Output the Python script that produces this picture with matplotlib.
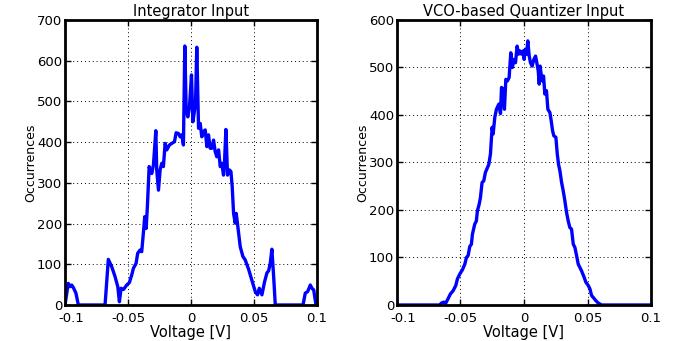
import matplotlib
matplotlib.use("Agg")
import matplotlib.pyplot as plt
import matplotlib.transforms as mtransforms
import numpy as np

plt.rcParams['font.family'] = ['DejaVu Sans']

# Integrator input histogram (voltage [V], occurrences)
int_v = [-0.1000, -0.0974, -0.0960, -0.0947, -0.0934, -0.0913, -0.0894, -0.0682, -0.0656, -0.0629,
         -0.0603, -0.0581, -0.0568, -0.0555, -0.0536, -0.0510, -0.0489, -0.0470, -0.0457, -0.0436,
         -0.0423, -0.0404, -0.0391, -0.0377, -0.0367, -0.0356, -0.0346, -0.0332, -0.0325, -0.0311,
         -0.0298, -0.0279, -0.0272, -0.0258, -0.0245, -0.0232, -0.0219, -0.0205, -0.0192, -0.0171,
         -0.0152, -0.0131, -0.0118, -0.0099, -0.0086, -0.0073, -0.0060, -0.0049, -0.0038, -0.0025,
         -0.0012, 0.0004, 0.0015, 0.0025, 0.0036, 0.0046, 0.0060, 0.0073, 0.0086, 0.0099,
         0.0113, 0.0126, 0.0139, 0.0152, 0.0166, 0.0179, 0.0192, 0.0205, 0.0219, 0.0232,
         0.0245, 0.0258, 0.0266, 0.0277, 0.0290, 0.0303, 0.0317, 0.0327, 0.0338, 0.0351,
         0.0359, 0.0372, 0.0391, 0.0412, 0.0430, 0.0457, 0.0483, 0.0510, 0.0528, 0.0542,
         0.0563, 0.0584, 0.0603, 0.0616, 0.0629, 0.0642, 0.0656, 0.0669, 0.0889, 0.0907,
         0.0926, 0.0947, 0.0960, 0.0974, 0.0992, 0.1000]
int_n = [0, 53, 45, 49, 43, 29, 0, 0, 112, 94,
         70, 45, 8, 41, 38, 49, 55, 74, 90, 102,
         127, 135, 131, 180, 217, 188, 242, 340, 332, 323,
         344, 428, 332, 282, 332, 348, 340, 397, 381, 393,
         397, 401, 423, 421, 413, 418, 393, 636, 479, 462,
         487, 565, 450, 471, 495, 633, 434, 446, 413, 426,
         430, 389, 418, 385, 385, 405, 377, 364, 381, 340,
         348, 319, 350, 431, 319, 332, 328, 291, 225, 201,
         225, 192, 143, 119, 111, 88, 61, 33, 25, 41,
         25, 57, 79, 84, 102, 137, 70, 0, 0, 29,
         33, 49, 41, 37, 0, 0]

# VCO-based quantizer input histogram (voltage [V], occurrences)
vco_v = [-0.1000, -0.0664, -0.0650, -0.0632, -0.0616, -0.0598, -0.0580, -0.0558, -0.0537, -0.0524,
         -0.0506, -0.0485, -0.0466, -0.0453, -0.0440, -0.0427, -0.0414, -0.0406, -0.0388, -0.0375,
         -0.0367, -0.0353, -0.0343, -0.0330, -0.0317, -0.0304, -0.0288, -0.0277, -0.0264, -0.0251,
         -0.0243, -0.0230, -0.0217, -0.0198, -0.0185, -0.0177, -0.0164, -0.0154, -0.0143, -0.0130,
         -0.0117, -0.0104, -0.0091, -0.0080, -0.0067, -0.0054, -0.0043, -0.0033, -0.0020, -0.0007,
         0.0001, 0.0009, 0.0020, 0.0030, 0.0041, 0.0051, 0.0064, 0.0078, 0.0091, 0.0101,
         0.0112, 0.0120, 0.0127, 0.0141, 0.0154, 0.0164, 0.0177, 0.0188, 0.0204, 0.0214,
         0.0225, 0.0235, 0.0251, 0.0262, 0.0272, 0.0283, 0.0296, 0.0309, 0.0322, 0.0335,
         0.0348, 0.0361, 0.0374, 0.0388, 0.0401, 0.0414, 0.0427, 0.0440, 0.0453, 0.0474,
         0.0487, 0.0506, 0.0519, 0.0532, 0.0545, 0.0566, 0.0585, 0.0611, 0.1000]
vco_n = [0, 0, 4, 6, 4, 13, 23, 30, 41, 55,
         65, 74, 86, 100, 104, 123, 128, 149, 170, 177,
         198, 212, 226, 258, 261, 279, 289, 296, 318, 374,
         360, 395, 412, 423, 403, 458, 454, 412, 475, 472,
         479, 531, 500, 517, 510, 545, 528, 535, 528, 535,
         517, 538, 528, 556, 524, 510, 503, 517, 524, 510,
         493, 465, 503, 472, 482, 444, 451, 412, 405, 388,
         367, 356, 353, 318, 296, 282, 258, 240, 219, 195,
         177, 163, 160, 128, 121, 104, 86, 79, 72, 58,
         48, 41, 34, 20, 16, 9, 4, 0, 0]

titles = ["Integrator Input", "VCO-based Quantizer Input"]
x_ticks = [-0.1, -0.05, 0, 0.05, 0.1]
x_ticklabels = ["-0.1", "-0.05", "0", "0.05", "0.1"]
y_max = [700, 600]

fig = plt.figure(figsize=(6.95, 3.41), dpi=100)
ax1 = fig.add_axes([0.0935, 0.1056, 0.3626, 0.8358])
ax2 = fig.add_axes([0.5712, 0.1056, 0.3655, 0.8358])

datasets = [(int_v, int_n), (vco_v, vco_n)]
shift = mtransforms.ScaledTranslation(6 / 100, 0, fig.dpi_scale_trans)

for ax, (xv, yv), ymax, title in zip([ax1, ax2], datasets, y_max, titles):
    ax.plot(xv, yv, color='#0000ff', lw=2.4)
    ax.set_xlim(-0.1, 0.1)
    ax.set_ylim(0, ymax)
    ax.set_xticks(x_ticks)
    ax.set_xticklabels(x_ticklabels)
    ax.set_yticks(np.arange(0, ymax + 1, 100))
    ax.grid(True, color='black', linestyle=(0, (1, 3)), lw=0.7)
    ax.tick_params(direction='in', top=True, right=True, labelsize=9.5, length=4, width=1)
    ax.tick_params(axis='x', pad=5)
    ax.tick_params(axis='y', pad=2)
    for s in ax.spines.values():
        s.set_linewidth(2)
    first = ax.get_xticklabels()[0]
    first.set_transform(first.get_transform() + shift)
    ax.set_title(title, fontsize=10.5, pad=3)
    ax.set_xlabel("Voltage [V]", fontsize=10.5, labelpad=0)
    ax.set_ylabel("Occurrences", fontsize=9, labelpad=0)

fig.savefig("out.png", dpi=100)
